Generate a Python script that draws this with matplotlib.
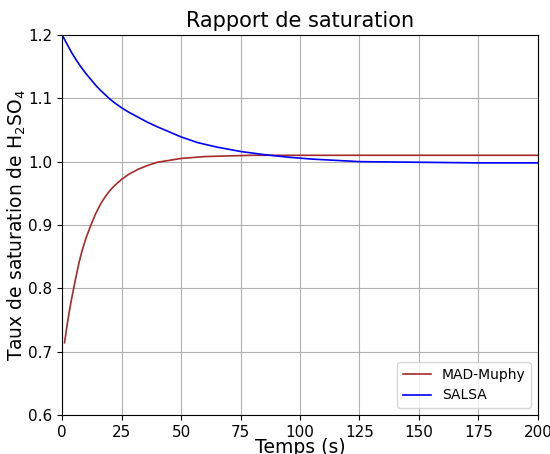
import matplotlib
matplotlib.use("Agg")
import matplotlib.pyplot as plt

# MAD-Muphy curve
t_mad = [1, 2, 3, 4, 5, 6, 7, 8, 9, 10, 12, 14, 16, 18, 20, 22, 25, 28, 32, 36,
         40, 45, 50, 60, 70, 80, 100, 125, 150, 175, 200]
s_mad = [0.714, 0.740, 0.763, 0.784, 0.803, 0.821, 0.839, 0.854, 0.867, 0.879,
         0.899, 0.917, 0.932, 0.944, 0.954, 0.962, 0.972, 0.980, 0.988, 0.994,
         0.999, 1.002, 1.005, 1.008, 1.009, 1.010, 1.010, 1.010, 1.010, 1.010, 1.010]

# SALSA curve
t_salsa = [0, 2, 4, 6, 8, 10, 12, 14, 16, 18, 20, 22, 25, 28, 32, 36, 40, 45, 50,
           57, 65, 75, 85, 95, 105, 115, 125, 150, 175, 200]
s_salsa = [1.200, 1.186, 1.172, 1.160, 1.149, 1.139, 1.130, 1.121, 1.113, 1.106,
           1.099, 1.093, 1.085, 1.078, 1.070, 1.062, 1.055, 1.047, 1.039,
           1.030, 1.023, 1.016, 1.011, 1.007, 1.004, 1.002, 1.000, 0.999, 0.998, 0.998]

xticks = [0, 25, 50, 75, 100, 125, 150, 175, 200]
yticks = [0.6, 0.7, 0.8, 0.9, 1.0, 1.1, 1.2]

fig, ax = plt.subplots(figsize=(5.5, 4.54), dpi=100)
fig.subplots_adjust(left=0.113, right=0.978, top=0.923, bottom=0.086)

ax.plot(t_mad, s_mad, color="brown", lw=1.2, label="MAD-Muphy")
ax.plot(t_salsa, s_salsa, color="blue", lw=1.2, label="SALSA")

ax.set_xlim(0, 200)
ax.set_ylim(0.6, 1.2)
ax.set_xticks(xticks)
ax.set_yticks(yticks)
ax.tick_params(labelsize=11)
ax.grid(True, color="#b0b0b0", lw=0.8)

ax.set_title("Rapport de saturation", fontsize=15)
ax.set_xlabel("Temps (s)", fontsize=13.5, labelpad=-1)
ax.set_ylabel("Taux de saturation de H$_2$SO$_4$", fontsize=13.5, labelpad=0)
ax.legend(loc="lower right", fontsize=10)

fig.savefig("out.png", dpi=100)
